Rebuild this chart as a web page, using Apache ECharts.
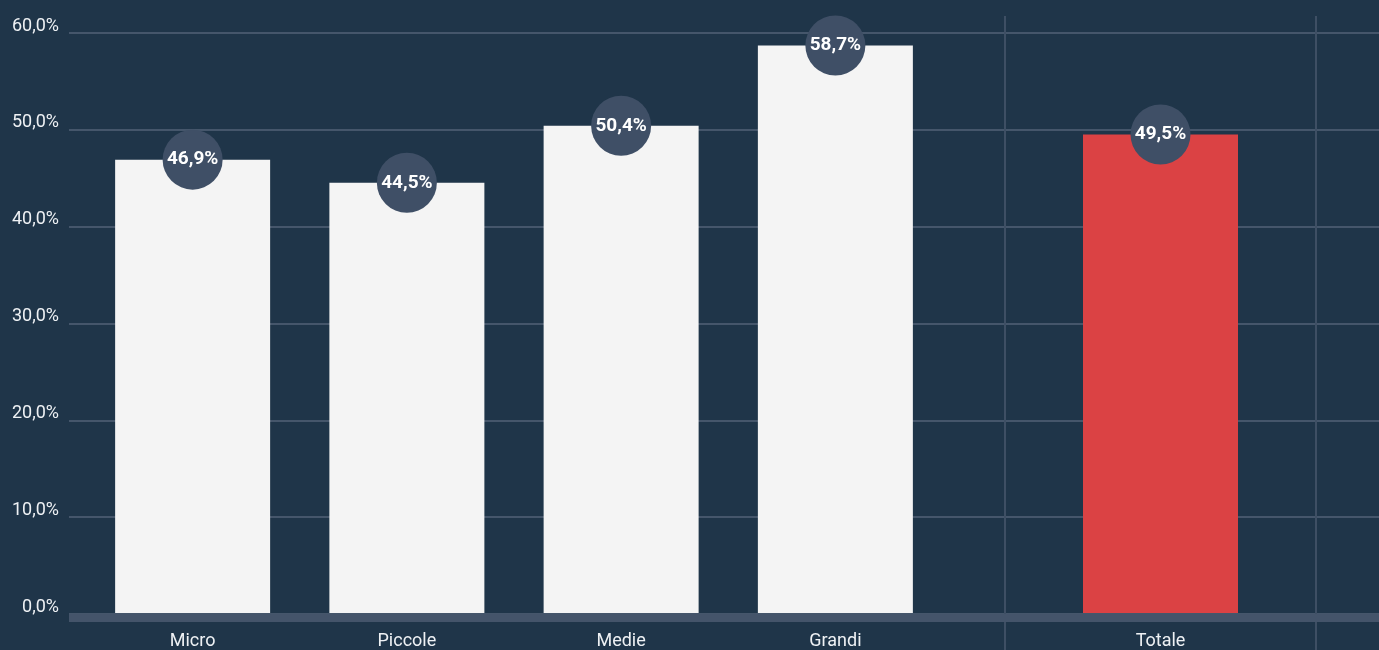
<!DOCTYPE html>
<html>
<head>
<meta charset="utf-8">
<script src="https://cdn.jsdelivr.net/npm/echarts@6/dist/echarts.min.js"></script>
<style>
  html, body { margin: 0; padding: 0; background: #1f3549; }
  #chart { width: 1379px; height: 650px; }
</style>
</head>
<body>
<div id="chart"></div>
<script>
// --- dati ---
const categories = ['Micro', 'Piccole', 'Medie', 'Grandi'];
const values = [46.9, 44.5, 50.4, 58.7];
const totalCategories = ['Totale'];
const totalValues = [49.5];
const yMin = 0, yMax = 60, yStep = 10;

const FONT = 'Roboto, "Noto Sans", sans-serif';
const fmt = v => v.toFixed(1).replace('.', ',') + '%';

const chart = echarts.init(document.getElementById('chart'));

// etichetta a cerchio centrata sulla cima della barra
const bubble = {
  show: true,
  position: 'top',
  distance: 0,
  width: 60,
  height: 60,
  lineHeight: 60,
  align: 'center',
  verticalAlign: 'middle',
  backgroundColor: '#3f4f66',
  borderRadius: 30,
  color: '#ffffff',
  fontFamily: FONT,
  fontWeight: 'bold',
  fontSize: 19,
  formatter: p => fmt(p.value)
};

const option = {
  backgroundColor: '#1f3549',
  animation: false,
  grid: [
    { left: 69, right: 0, top: 33, bottom: 36 },      // griglia orizzontale
    { left: 85.5, width: 857, top: 33, bottom: 36 },  // categorie
    { left: 1005, width: 311, top: 33, bottom: 36 },  // totale
    { left: 1005, width: 311, top: 16, bottom: 0 },   // separatori verticali
    { left: 69, right: 0, top: 33, bottom: 32 }       // linea asse spessa
  ],
  xAxis: [
    {
      gridIndex: 0, type: 'category', data: [''],
      axisLine: { show: false }, axisTick: { show: false }, axisLabel: { show: false }
    },
    {
      gridIndex: 1, type: 'category', data: categories,
      axisLine: { show: false }, axisTick: { show: false },
      axisLabel: { color: '#eef1f4', fontSize: 18, fontFamily: FONT, margin: 19 }
    },
    {
      gridIndex: 2, type: 'category', data: totalCategories,
      axisLine: { show: false }, axisTick: { show: false },
      axisLabel: { color: '#eef1f4', fontSize: 18, fontFamily: FONT, margin: 19 }
    },
    {
      gridIndex: 3, type: 'category', data: [''],
      axisLine: { show: false }, axisTick: { show: false }, axisLabel: { show: false },
      splitLine: { show: true, lineStyle: { color: '#3e4f64', width: 2 } }
    },
    {
      gridIndex: 4, type: 'category', data: [''],
      axisLine: { show: true, lineStyle: { color: '#44546a', width: 8, cap: 'butt' } },
      axisTick: { show: false }, axisLabel: { show: false }, splitLine: { show: false }
    }
  ],
  yAxis: [
    {
      gridIndex: 0, type: 'value', min: yMin, max: yMax, interval: yStep,
      axisLine: { show: false }, axisTick: { show: false },
      axisLabel: {
        color: '#eef1f4', fontSize: 18, fontFamily: FONT, margin: 10,
        verticalAlign: 'bottom', lineHeight: 14,
        formatter: v => fmt(v)
      },
      splitLine: { lineStyle: { color: '#45566b', width: 2 } }
    },
    { gridIndex: 1, type: 'value', min: yMin, max: yMax, show: false },
    { gridIndex: 2, type: 'value', min: yMin, max: yMax, show: false },
    { gridIndex: 3, type: 'value', min: 0, max: 1, show: false },
    { gridIndex: 4, type: 'value', min: 0, max: 1, show: false }
  ],
  series: [
    {
      type: 'bar', xAxisIndex: 1, yAxisIndex: 1,
      data: values, barWidth: 155,
      itemStyle: { color: '#f4f4f4' },
      label: bubble
    },
    {
      type: 'bar', xAxisIndex: 2, yAxisIndex: 2,
      data: totalValues, barWidth: 155,
      itemStyle: { color: '#db4244' },
      label: bubble
    }
  ]
};

chart.setOption(option);
</script>
</body>
</html>
